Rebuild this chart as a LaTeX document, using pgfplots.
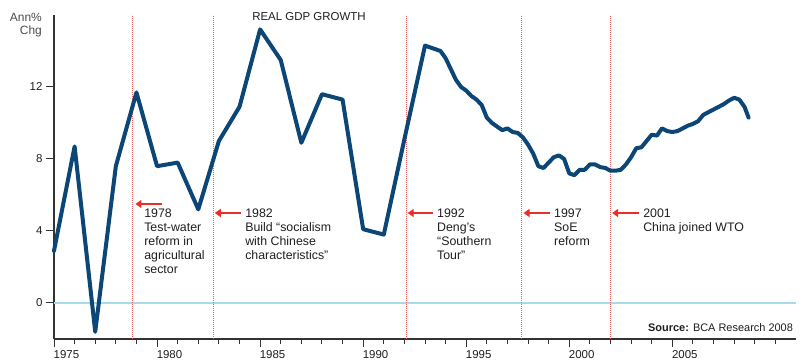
\documentclass[border=0pt]{standalone}
\usepackage{fontspec}
\setmainfont{Liberation Sans}
\usepackage{pgfplots}
\pgfplotsset{compat=1.18}
\usetikzlibrary{arrows.meta}
\definecolor{gdpblue}{HTML}{0B4677}
\definecolor{zeroblue}{HTML}{A6DCE9}
\definecolor{vred}{HTML}{F06060}
\definecolor{arrred}{HTML}{E8302A}
\definecolor{txt}{HTML}{1E1E1E}
\newcommand{\lbl}{\fontsize{12.4}{14}\selectfont}
\begin{document}
\begin{tikzpicture}
\begin{axis}[
  scale only axis, width=742bp, height=324bp,
  xmin=1975, xmax=2011, ymin=-2, ymax=16,
  axis x line*=bottom, axis y line*=left,
  axis line style={line width=1.2bp, black!80},
  xtick={1975,1980,1985,1990,1995,2000,2005},
  minor xtick={1976,1977,1978,1979,1981,1982,1983,1984,1986,1987,1988,1989,1991,1992,1993,1994,1996,1997,1998,1999,2001,2002,2003,2004,2006,2007,2008,2009,2010},
  ytick={0,4,8,12},
  tick align=outside,
  major tick length=8bp, minor tick length=5bp,
  tick style={line width=1bp, black!80},
  /pgf/number format/assume math mode=true,
  /pgf/number format/1000 sep={},
  ticklabel style={font=\fontsize{11.5}{13}\selectfont, text=txt},
  xticklabel style={anchor=north west, inner sep=0pt, xshift=-0.5bp, yshift=-3bp},
  clip=false,
]
\addplot[zeroblue, line width=2bp] coordinates {(1975,0) (2011,0)};
\addplot[vred, line width=1bp, dash pattern=on 1bp off 1bp] coordinates {(1978.83,-2) (1978.83,16)};
\addplot[vred, line width=1bp, dash pattern=on 1bp off 1bp] coordinates {(1982.72,-2) (1982.72,16)};
\addplot[vred, line width=1bp, dash pattern=on 1bp off 1bp] coordinates {(1992.09,-2) (1992.09,16)};
\addplot[vred, line width=1bp, dash pattern=on 1bp off 1bp] coordinates {(1997.70,-2) (1997.70,16)};
\addplot[vred, line width=1bp, dash pattern=on 1bp off 1bp] coordinates {(2002.00,-2) (2002.00,16)};
\addplot[gdpblue, line width=4bp, line join=round, line cap=round, mark=none] coordinates {
(1975.0,2.9) (1976.0,8.7) (1977.0,-1.6) (1978.0,7.6) (1979.0,11.7) (1980.0,7.6)
(1981.0,7.8) (1982.0,5.2) (1983.0,9.0) (1984.0,10.9) (1985.0,15.2) (1986.0,13.5)
(1987.0,8.9) (1988.0,11.6) (1989.0,11.3) (1990.0,4.1) (1991.0,3.8) (1992.0,9.1)
(1993.0,14.3) (1993.25,14.2) (1993.5,14.1) (1993.75,14.0) (1994.0,13.6) (1994.25,13.0)
(1994.5,12.4) (1994.75,12.0) (1995.0,11.8) (1995.25,11.5) (1995.5,11.3) (1995.75,11.0)
(1996.0,10.3) (1996.25,10.0) (1996.5,9.8) (1996.75,9.6) (1997.0,9.7) (1997.25,9.5)
(1997.5,9.45) (1997.75,9.2) (1998.0,8.8) (1998.25,8.3) (1998.5,7.6) (1998.75,7.5)
(1999.0,7.8) (1999.25,8.1) (1999.5,8.2) (1999.75,8.0) (2000.0,7.2) (2000.25,7.1)
(2000.5,7.4) (2000.75,7.4) (2001.0,7.7) (2001.25,7.7) (2001.5,7.55) (2001.75,7.5)
(2002.0,7.35) (2002.25,7.35) (2002.5,7.4) (2002.75,7.7) (2003.0,8.1) (2003.25,8.6)
(2003.5,8.65) (2003.75,9.0) (2004.0,9.35) (2004.25,9.3) (2004.5,9.7) (2004.75,9.55)
(2005.0,9.5) (2005.25,9.55) (2005.5,9.7) (2005.75,9.85) (2006.0,9.95) (2006.25,10.1)
(2006.5,10.45) (2006.75,10.6) (2007.0,10.75) (2007.25,10.9) (2007.5,11.05) (2007.75,11.25)
(2008.0,11.4) (2008.25,11.3) (2008.5,10.9) (2008.7,10.3)
};
% arrows
\draw[arrred, line width=2.5bp, -{Triangle[length=6bp,width=8bp]}] (axis cs:1980.24,5.5) -- (axis cs:1978.95,5.5);
\draw[arrred, line width=2.5bp, -{Triangle[length=6bp,width=8bp]}] (axis cs:1984.07,5.0) -- (axis cs:1982.80,5.0);
\draw[arrred, line width=2.5bp, -{Triangle[length=6bp,width=8bp]}] (axis cs:1993.39,5.0) -- (axis cs:1992.16,5.0);
\draw[arrred, line width=2.5bp, -{Triangle[length=6bp,width=8bp]}] (axis cs:1999.07,5.0) -- (axis cs:1997.78,5.0);
\draw[arrred, line width=2.5bp, -{Triangle[length=6bp,width=8bp]}] (axis cs:2003.38,5.0) -- (axis cs:2002.08,5.0);
% labels
\node[anchor=north west, align=left, inner sep=0pt, font=\lbl, text=txt] at (axis cs:1979.37,5.22) {1978\\Test-water\\reform in\\agricultural\\sector};
\node[anchor=north west, align=left, inner sep=0pt, font=\lbl, text=txt] at (axis cs:1984.27,5.22) {1982\\Build “socialism\\with Chinese\\characteristics”};
\node[anchor=north west, align=left, inner sep=0pt, font=\lbl, text=txt] at (axis cs:1993.58,5.22) {1992\\Deng’s\\“Southern\\Tour”};
\node[anchor=north west, align=left, inner sep=0pt, font=\lbl, text=txt] at (axis cs:1999.26,5.22) {1997\\SoE\\reform};
\node[anchor=north west, align=left, inner sep=0pt, font=\lbl, text=txt] at (axis cs:2003.58,5.22) {2001\\China joined WTO};
\node[font=\fontsize{11.5}{13}\selectfont, text=txt] at (axis cs:1987.37,15.9) {REAL GDP GROWTH};
\node[anchor=north east, align=right, inner sep=0pt, font=\fontsize{12}{13}\selectfont, text=black!70] at (axis cs:1974.42,16.1) {Ann\%\\Chg};
\node[anchor=east, inner sep=0pt, font=\fontsize{11}{13}\selectfont, text=txt] at (axis cs:2010.86,-1.39) {\textbf{Source:} BCA Research 2008};
\end{axis}
\pgfresetboundingbox
\path[use as bounding box] (-54bp,-25bp) rectangle (748bp,339bp);
\end{tikzpicture}
\end{document}
